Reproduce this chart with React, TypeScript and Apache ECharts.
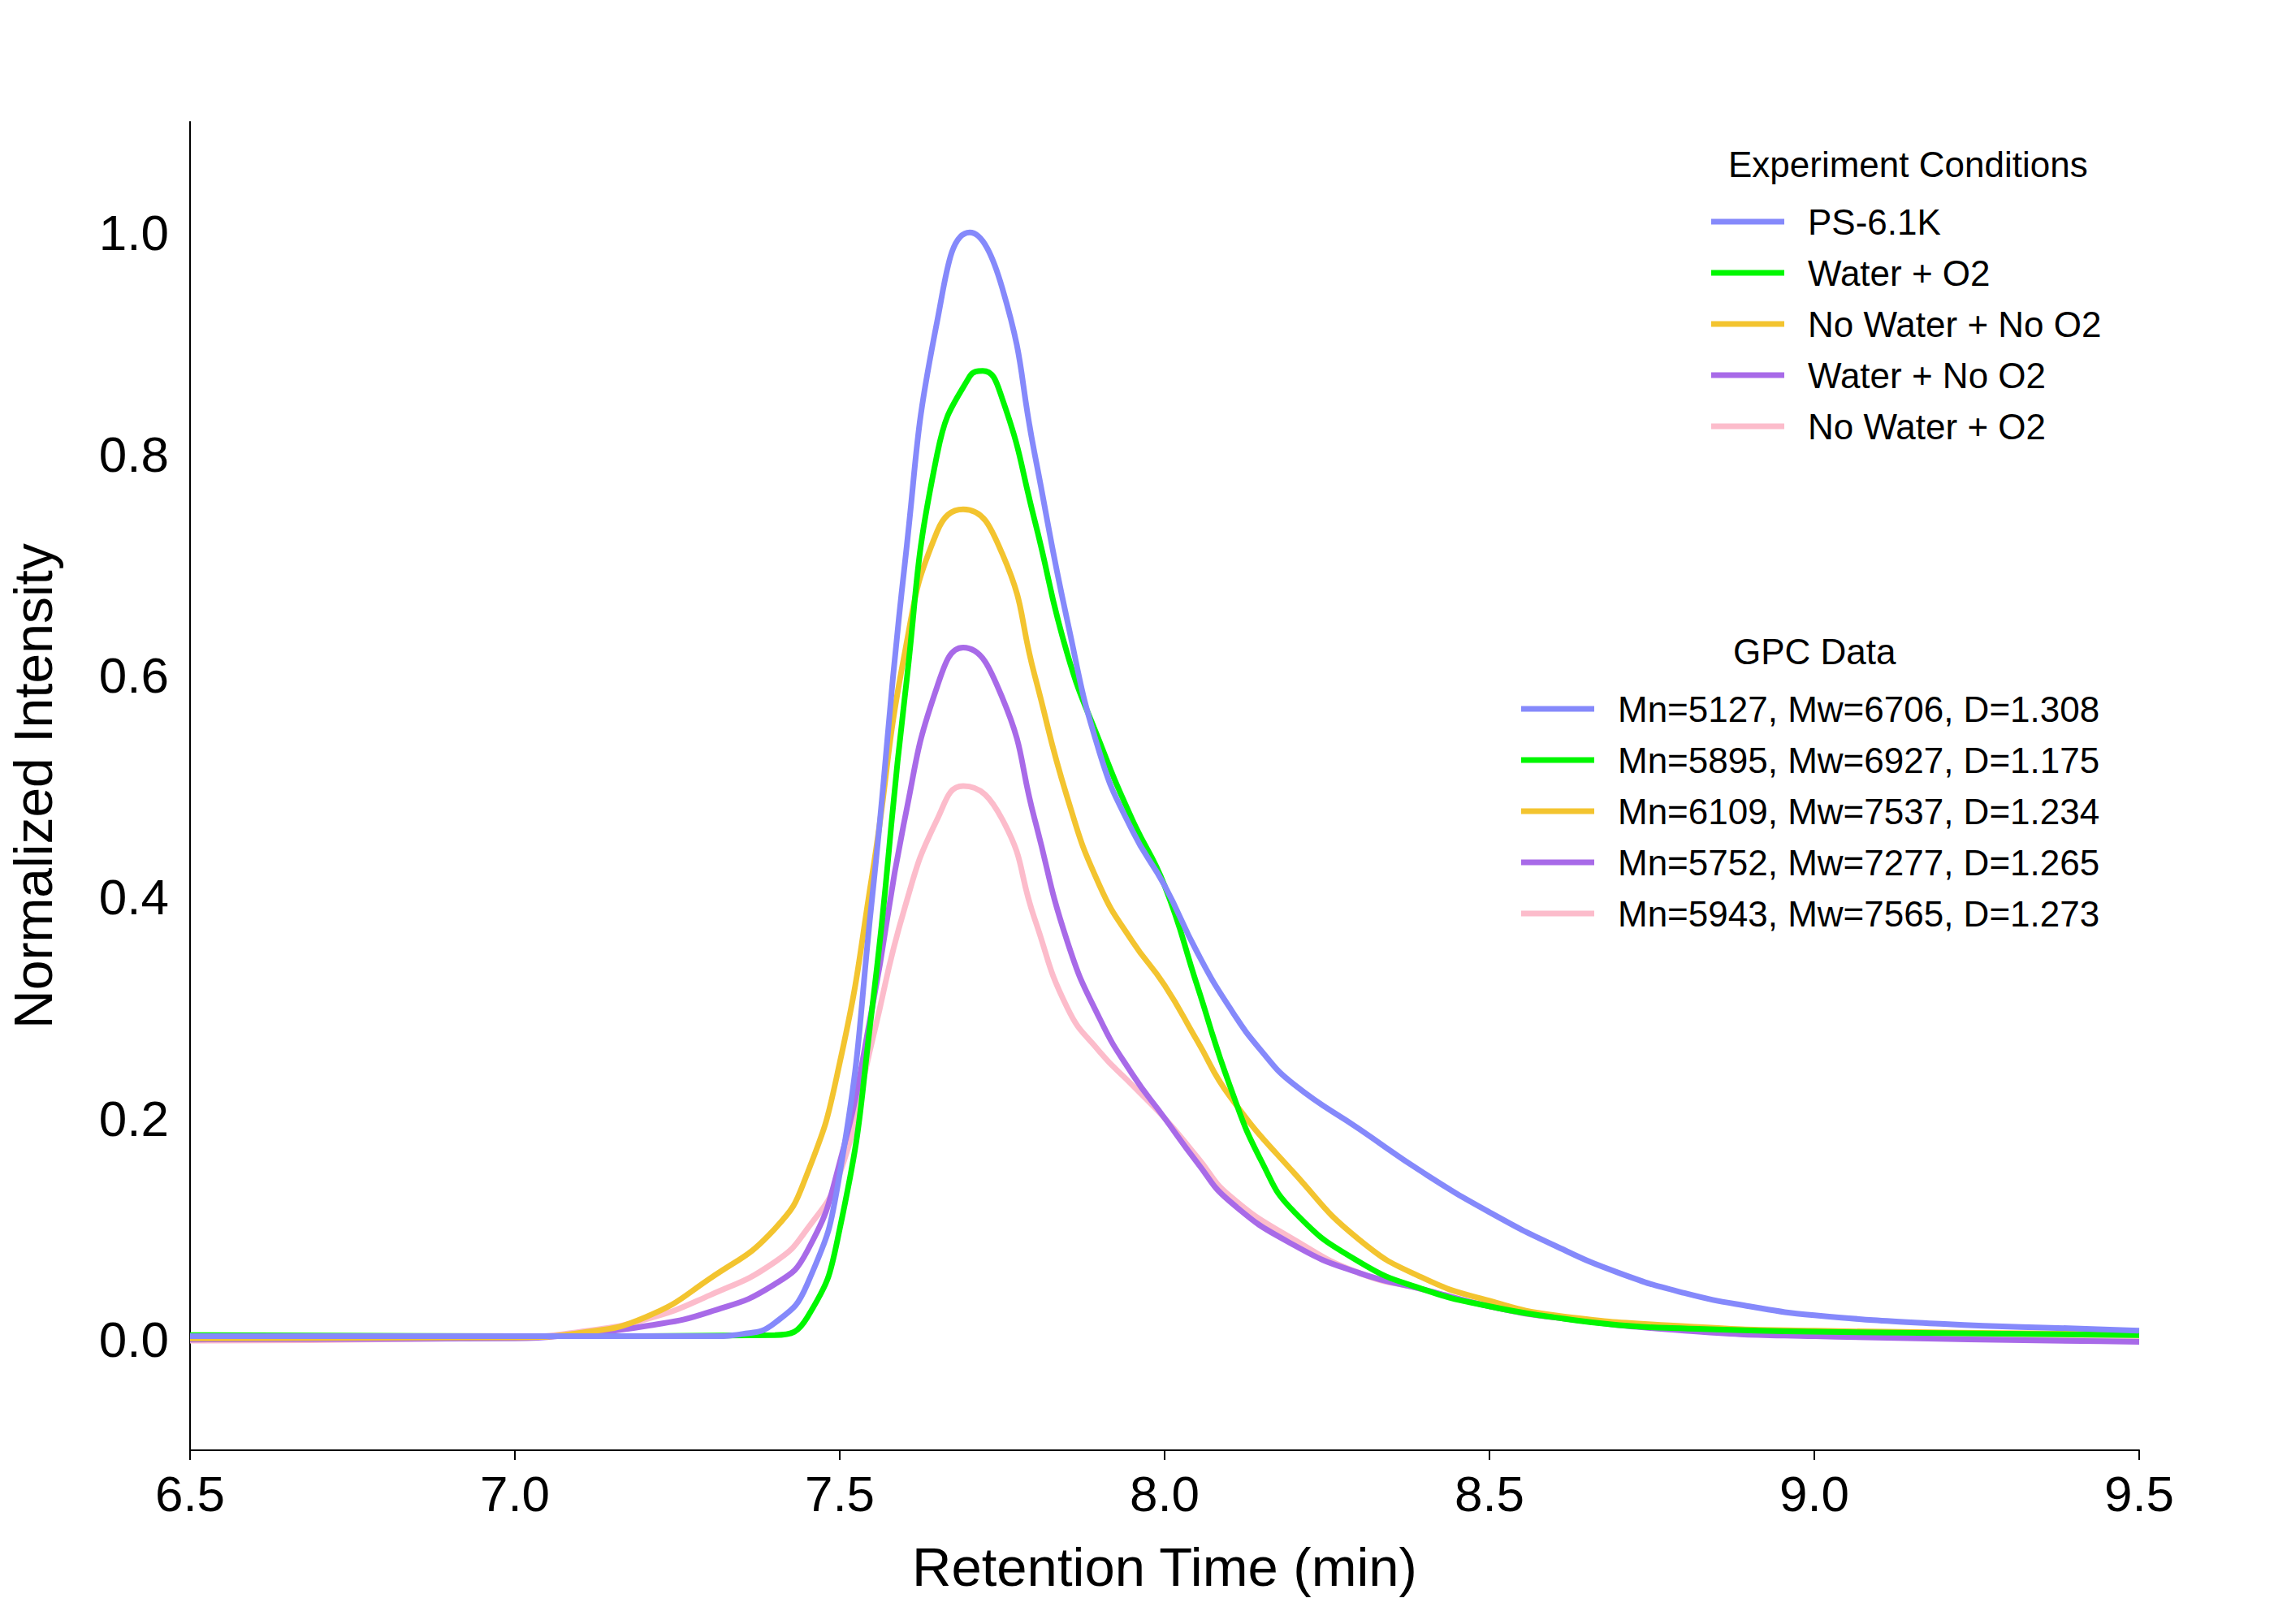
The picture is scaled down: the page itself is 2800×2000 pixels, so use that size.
import React, { useRef, useEffect } from 'react'
import * as echarts from 'echarts'

const seriesNames = ['PS-6.1K', 'Water + O2', 'No Water + No O2', 'Water + No O2', 'No Water + O2']
const gpcNames = [
  'Mn=5127, Mw=6706, D=1.308',
  'Mn=5895, Mw=6927, D=1.175',
  'Mn=6109, Mw=7537, D=1.234',
  'Mn=5752, Mw=7277, D=1.265',
  'Mn=5943, Mw=7565, D=1.273',
]
const colors = ['#8589fb', '#00f700', '#f3c42f', '#a86ae8', '#fcbccb']

const ps61k = [
  [6.5, 0.003], [7.0, 0.003], [7.3, 0.003], [7.35, 0.005], [7.4, 0.015], [7.45, 0.05], [7.5, 0.15],
  [7.55, 0.4], [7.6, 0.7], [7.65, 0.92], [7.7, 1.0], [7.75, 0.95], [7.8, 0.8], [7.85, 0.65],
  [7.9, 0.53], [7.95, 0.46], [8.0, 0.41], [8.05, 0.35], [8.1, 0.3], [8.15, 0.26], [8.2, 0.23],
  [8.3, 0.19], [8.4, 0.15], [8.5, 0.115], [8.6, 0.085], [8.7, 0.06], [8.8, 0.042], [8.9, 0.03],
  [9.0, 0.022], [9.2, 0.014], [9.4, 0.01], [9.5, 0.008],
]
const waterO2 = [
  [6.5, 0.004], [7.0, 0.003], [7.4, 0.004], [7.45, 0.02], [7.5, 0.1], [7.55, 0.3], [7.6, 0.58],
  [7.65, 0.8], [7.7, 0.87], [7.72, 0.875], [7.75, 0.85], [7.8, 0.74], [7.85, 0.62], [7.9, 0.54],
  [7.95, 0.47], [8.0, 0.41], [8.05, 0.32], [8.1, 0.23], [8.15, 0.16], [8.2, 0.115], [8.3, 0.07],
  [8.4, 0.045], [8.5, 0.03], [8.6, 0.02], [8.7, 0.013], [8.8, 0.01], [9.0, 0.007], [9.5, 0.004],
]
const noWaterNoO2 = [
  [6.5, 0.001], [7.0, 0.002], [7.1, 0.006], [7.2, 0.02], [7.3, 0.055], [7.4, 0.1], [7.45, 0.15],
  [7.5, 0.25], [7.55, 0.42], [7.6, 0.62], [7.65, 0.73], [7.69, 0.75], [7.75, 0.71], [7.8, 0.6],
  [7.85, 0.49], [7.9, 0.41], [7.95, 0.36], [8.0, 0.32], [8.05, 0.27], [8.1, 0.22], [8.2, 0.15],
  [8.3, 0.09], [8.4, 0.055], [8.5, 0.035], [8.6, 0.022], [8.8, 0.012], [9.0, 0.008], [9.5, 0.005],
]
const waterNoO2 = [
  [6.5, 0.0], [7.0, 0.001], [7.1, 0.005], [7.2, 0.012], [7.3, 0.025], [7.4, 0.05], [7.45, 0.08],
  [7.5, 0.16], [7.55, 0.3], [7.6, 0.47], [7.65, 0.59], [7.69, 0.625], [7.75, 0.58], [7.8, 0.47],
  [7.85, 0.36], [7.9, 0.29], [7.95, 0.24], [8.0, 0.2], [8.05, 0.16], [8.1, 0.125], [8.2, 0.085],
  [8.3, 0.06], [8.4, 0.045], [8.5, 0.03], [8.6, 0.02], [8.8, 0.008], [9.0, 0.003], [9.5, -0.002],
]
const noWaterO2 = [
  [6.5, -0.001], [7.0, 0.002], [7.1, 0.007], [7.2, 0.018], [7.3, 0.04], [7.4, 0.07], [7.45, 0.1],
  [7.5, 0.15], [7.55, 0.27], [7.6, 0.39], [7.65, 0.47], [7.69, 0.5], [7.75, 0.47], [7.8, 0.38],
  [7.85, 0.3], [7.9, 0.26], [7.95, 0.23], [8.0, 0.2], [8.05, 0.165], [8.1, 0.13], [8.2, 0.09],
  [8.3, 0.06], [8.4, 0.045], [8.5, 0.03], [8.6, 0.02], [8.8, 0.01], [9.0, 0.006], [9.5, 0.003],
]
const allData = [ps61k, waterO2, noWaterNoO2, waterNoO2, noWaterO2]

const font = 'Liberation Sans, Arial, sans-serif'

function App() {
  const chartRef = useRef(null)

  useEffect(() => {
    document.body.style.margin = '0'
    const chart = echarts.init(chartRef.current, null, { renderer: 'svg' })

    const lineSeries = allData.map((d, i) => ({
      name: seriesNames[i],
      type: 'line',
      data: d,
      smooth: 0.5,
      showSymbol: false,
      lineStyle: { width: 7, color: colors[i] },
      itemStyle: { color: colors[i] },
      z: 10 - i,
    }))
    // dummy series so the GPC legend gets its own entries
    const gpcSeries = gpcNames.map((n, i) => ({
      name: n,
      type: 'line',
      data: [],
      showSymbol: false,
      lineStyle: { width: 7, color: colors[i] },
      itemStyle: { color: colors[i] },
    }))

    const legendBase = {
      orient: 'vertical',
      icon: 'rect',
      itemWidth: 90,
      itemHeight: 7,
      itemGap: 19,
      selectedMode: false,
      textStyle: { fontSize: 44, fontFamily: font, color: '#000', padding: [0, 0, 0, 24] },
    }

    const option = {
      animation: false,
      backgroundColor: '#fff',
      grid: { left: 234, right: 166, top: 150, bottom: 214 },
      xAxis: {
        type: 'value',
        min: 6.5,
        max: 9.5,
        interval: 0.5,
        name: 'Retention Time (min)',
        nameLocation: 'middle',
        nameGap: 110,
        nameTextStyle: { fontSize: 67, fontFamily: font, color: '#000' },
        axisLine: { onZero: false, lineStyle: { color: '#000', width: 2 } },
        axisTick: { lineStyle: { color: '#000', width: 2 }, length: 12 },
        axisLabel: { fontSize: 62, fontFamily: font, color: '#000', margin: 22, formatter: (v: number) => v.toFixed(1) },
        splitLine: { show: false },
      },
      yAxis: {
        type: 'value',
        min: -0.1,
        max: 1.1,
        name: 'Normalized Intensity',
        nameLocation: 'middle',
        nameGap: 160,
        nameTextStyle: { fontSize: 66, fontFamily: font, color: '#000' },
        axisLine: { show: true, lineStyle: { color: '#000', width: 2 } },
        axisTick: { show: false },
        axisLabel: {
          fontSize: 62, fontFamily: font, color: '#000', margin: 26,
          formatter: (v: number) => (Math.abs(v - Math.round(v * 5) / 5) < 1e-6 && v >= 0 && v <= 1.0001 ? v.toFixed(1) : ''),
        },
        interval: 0.1,
        splitLine: { show: false },
      },
      legend: [
        { ...legendBase, data: seriesNames, left: 2102, top: 246 },
        { ...legendBase, data: gpcNames, left: 1868, top: 846 },
      ],
      graphic: [
        { type: 'text', left: 2128, top: 180, style: { text: 'Experiment Conditions', fontSize: 44, fontFamily: font, fill: '#000' } },
        { type: 'text', left: 2134, top: 780, style: { text: 'GPC Data', fontSize: 44, fontFamily: font, fill: '#000' } },
      ],
      series: [...lineSeries, ...gpcSeries],
    }

    chart.setOption(option)

    return () => {
      chart.dispose()
    }
  }, [])

  return <div ref={chartRef} style={{ width: 2800, height: 2000 }}></div>
}

export default App
